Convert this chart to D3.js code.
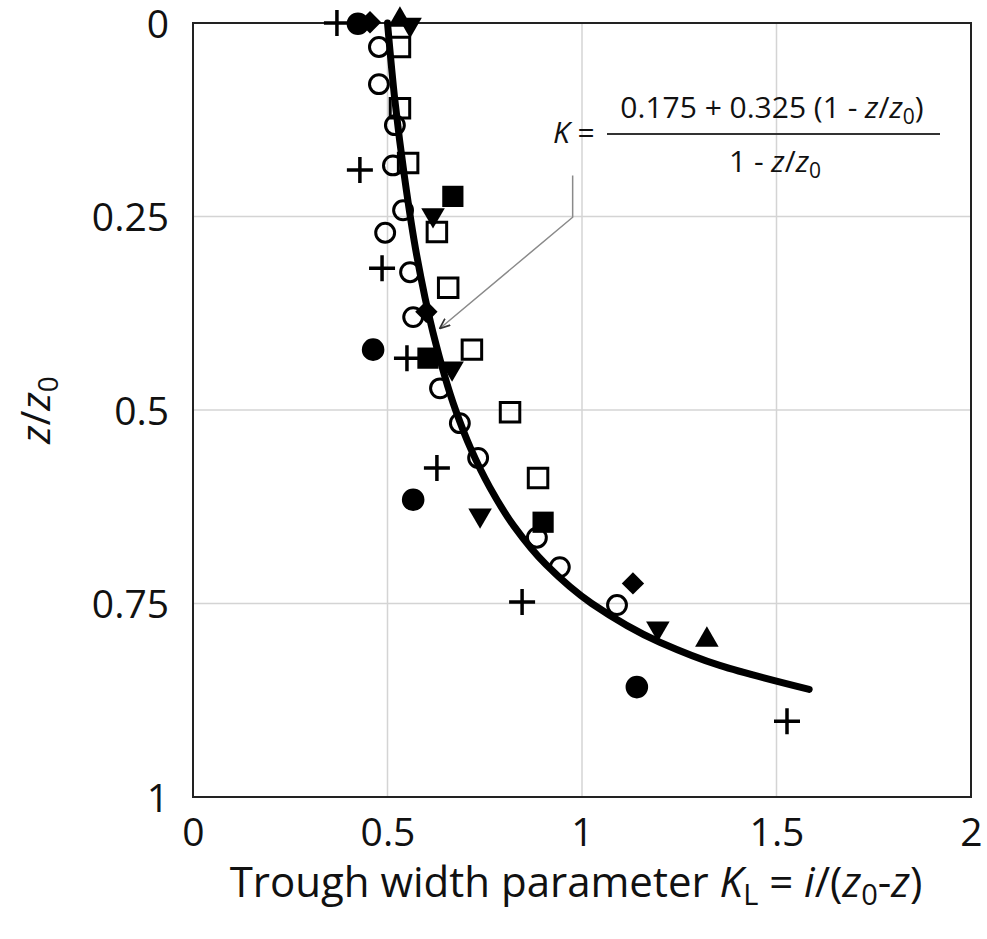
<!DOCTYPE html>
<html>
<head>
<meta charset="utf-8">
<script src="https://cdnjs.cloudflare.com/ajax/libs/d3/7.8.5/d3.min.js"></script>
<style>
  body { margin: 0; background: #fff; }
  text { font-family: "Open Sans", sans-serif; fill: #111; }
</style>
</head>
<body>
<script>
// tick values and labels
var xTicks = [0, 0.5, 1, 1.5, 2];
var xTickLabels = ["0", "0.5", "1", "1.5", "2"];
var yTicks = [0, 0.25, 0.5, 0.75, 1];
var yTickLabels = ["0", "0.25", "0.5", "0.75", "1"];

// measured points, K (x) and z/z0 (y), one pair of arrays per marker type
var openCircleK = [0.478, 0.478, 0.519, 0.514, 0.54, 0.494, 0.558, 0.566, 0.635, 0.686, 0.733, 0.884, 0.943, 1.09];
var openCircleZ = [0.031, 0.079, 0.132, 0.184, 0.242, 0.271, 0.322, 0.38, 0.472, 0.517, 0.562, 0.665, 0.703, 0.752];
var openSquareK = [0.532, 0.532, 0.553, 0.627, 0.656, 0.717, 0.815, 0.887];
var openSquareZ = [0.031, 0.11, 0.181, 0.27, 0.342, 0.422, 0.503, 0.588];
var filledSquareK = [0.668, 0.604, 0.9];
var filledSquareZ = [0.224, 0.433, 0.645];
var downTriangleK = [0.558, 0.617, 0.666, 0.738, 1.195];
var downTriangleZ = [0.002, 0.248, 0.446, 0.636, 0.782];
var upTriangleK = [0.532, 1.321];
var upTriangleZ = [-0.004, 0.797];
var filledCircleK = [0.424, 0.463, 0.566, 1.141];
var filledCircleZ = [0.001, 0.422, 0.616, 0.858];
var diamondK = [0.455, 0.6, 1.131];
var diamondZ = [-0.001, 0.373, 0.724];
var plusK = [0.37, 0.429, 0.486, 0.55, 0.627, 0.846, 1.527];
var plusZ = [0, 0.19, 0.317, 0.433, 0.575, 0.748, 0.902];

// fitted curve K = (0.175 + 0.325(1 - z/z0)) / (1 - z/z0)
var curveZ = [0, 0.1, 0.2, 0.3, 0.4, 0.5, 0.55, 0.6, 0.65, 0.7, 0.75, 0.8, 0.83, 0.861];
var curveK = [0.5, 0.519, 0.544, 0.575, 0.617, 0.675, 0.714, 0.763, 0.825, 0.908, 1.025, 1.2, 1.354, 1.584];

var w = 987, h = 939;
var margin = {top: 23, right: 16, bottom: 142, left: 193};
var graphWidth = w - margin.left - margin.right;
var graphHeight = h - margin.top - margin.bottom;

var svg = d3.select("body").append("svg")
  .attr("width", w)
  .attr("height", h);

svg.append("rect").attr("width", w).attr("height", h).attr("fill", "#fff");

var graph = svg.append("g")
  .attr("transform", `translate(${margin.left}, ${margin.top})`);

var xScale = d3.scaleLinear().domain([0, 2]).range([0, graphWidth]);
var yScale = d3.scaleLinear().domain([0, 1]).range([0, graphHeight]);

// gridlines
graph.append("g").selectAll("line")
  .data(xTicks.slice(1, -1))
  .enter().append("line")
  .attr("x1", d => xScale(d)).attr("x2", d => xScale(d))
  .attr("y1", 0).attr("y2", graphHeight)
  .attr("stroke", "#d4d4d4").attr("stroke-width", 1.5);

graph.append("g").selectAll("line")
  .data(yTicks.slice(1, -1))
  .enter().append("line")
  .attr("y1", d => yScale(d)).attr("y2", d => yScale(d))
  .attr("x1", 0).attr("x2", graphWidth)
  .attr("stroke", "#d4d4d4").attr("stroke-width", 1.5);

// frame
graph.append("rect")
  .attr("width", graphWidth).attr("height", graphHeight)
  .attr("fill", "none").attr("stroke", "#222").attr("stroke-width", 2);

// tick labels
var xAxis = d3.axisBottom(xScale).tickValues(xTicks)
  .tickFormat((d, i) => xTickLabels[i]).tickSize(0).tickPadding(0);
var yAxis = d3.axisLeft(yScale).tickValues(yTicks)
  .tickFormat((d, i) => yTickLabels[i]).tickSize(0).tickPadding(24);

var gx = graph.append("g").attr("transform", `translate(0, ${graphHeight})`).call(xAxis);
var gy = graph.append("g").call(yAxis);
[gx, gy].forEach(function(g) {
  g.select(".domain").remove();
  g.selectAll("text").attr("font-family", "Open Sans").attr("font-size", 39).attr("fill", "#111");
});
gx.selectAll("text").attr("dy", null).attr("y", 49);
gy.selectAll("text").attr("dy", "0.36em");

// annotation leader line
svg.append("defs").append("marker")
  .attr("id", "arrow")
  .attr("viewBox", "0 0 10 10").attr("refX", 9).attr("refY", 5)
  .attr("markerWidth", 7).attr("markerHeight", 7)
  .attr("orient", "auto-start-reverse")
  .append("path").attr("d", "M0,1 L10,5 L0,9").attr("fill", "none")
  .attr("stroke", "#333").attr("stroke-width", 1.6);

graph.append("path")
  .attr("d", d3.line()([[xScale(0.976), yScale(0.197)], [xScale(0.976), yScale(0.251)], [xScale(0.636), yScale(0.394)]]))
  .attr("fill", "none").attr("stroke", "#8a8a8a").attr("stroke-width", 1.5)
  .attr("marker-end", "url(#arrow)");

// curve
var line = d3.line()
  .x((d, i) => xScale(curveK[i]))
  .y(d => yScale(d))
  .curve(d3.curveMonotoneY);

graph.append("path")
  .datum(curveZ)
  .attr("d", line)
  .attr("fill", "none").attr("stroke", "#000")
  .attr("stroke-width", 7).attr("stroke-linecap", "round");

// markers
var series = [
  {k: openSquareK, z: openSquareZ, d: d3.symbol(d3.symbolSquare, 380)(), fill: "none", stroke: 3, rot: 0},
  {k: openCircleK, z: openCircleZ, d: d3.symbol(d3.symbolCircle, 280)(), fill: "none", stroke: 3, rot: 0},
  {k: filledSquareK, z: filledSquareZ, d: d3.symbol(d3.symbolSquare, 450)(), fill: "#000", stroke: 0, rot: 0},
  {k: downTriangleK, z: downTriangleZ, d: d3.symbol(d3.symbolTriangle, 240)(), fill: "#000", stroke: 0, rot: 180},
  {k: upTriangleK, z: upTriangleZ, d: d3.symbol(d3.symbolTriangle, 240)(), fill: "#000", stroke: 0, rot: 0},
  {k: filledCircleK, z: filledCircleZ, d: d3.symbol(d3.symbolCircle, 400)(), fill: "#000", stroke: 0, rot: 0},
  {k: diamondK, z: diamondZ, d: d3.symbol(d3.symbolSquare, 250)(), fill: "#000", stroke: 0, rot: 45},
  {k: plusK, z: plusZ, d: "M-13,0H13M0,-13V13", fill: "none", stroke: 3.5, rot: 0}
];

series.forEach(function(s) {
  graph.append("g").selectAll("path")
    .data(s.k)
    .enter().append("path")
    .attr("d", s.d)
    .attr("transform", (d, i) => `translate(${xScale(d)}, ${yScale(s.z[i])}) rotate(${s.rot})`)
    .attr("fill", s.fill)
    .attr("stroke", s.stroke ? "#000" : "none")
    .attr("stroke-width", s.stroke);
});

// formula
var f = svg.append("g").attr("font-size", 30);
var kEq = f.append("text").attr("x", 553).attr("y", 143);
kEq.append("tspan").attr("font-style", "italic").text("K");
kEq.append("tspan").text(" =");

var num = f.append("text").attr("x", 772).attr("y", 118).attr("text-anchor", "middle");
num.append("tspan").text("0.175 + 0.325 (1 - ");
num.append("tspan").attr("font-style", "italic").text("z");
num.append("tspan").text("/");
num.append("tspan").attr("font-style", "italic").text("z");
num.append("tspan").attr("font-size", 21).attr("dy", 6).text("0");
num.append("tspan").attr("dy", -6).text(")");

f.append("line").attr("x1", 607).attr("x2", 940).attr("y1", 134).attr("y2", 134)
  .attr("stroke", "#333").attr("stroke-width", 2);

var den = f.append("text").attr("x", 775).attr("y", 172).attr("text-anchor", "middle");
den.append("tspan").text("1 - ");
den.append("tspan").attr("font-style", "italic").text("z");
den.append("tspan").text("/");
den.append("tspan").attr("font-style", "italic").text("z");
den.append("tspan").attr("font-size", 21).attr("dy", 6).text("0");

// axis titles
var xt = svg.append("text")
  .attr("x", 576).attr("y", 897)
  .attr("text-anchor", "middle").attr("font-size", 42);
xt.append("tspan").text("Trough width parameter ");
xt.append("tspan").attr("font-style", "italic").text("K");
xt.append("tspan").attr("font-size", 29).attr("dy", 8).text("L");
xt.append("tspan").attr("dy", -8).text(" = ");
xt.append("tspan").attr("font-style", "italic").text("i");
xt.append("tspan").text("/(");
xt.append("tspan").attr("font-style", "italic").text("z");
xt.append("tspan").attr("font-size", 29).attr("dy", 8).text("0");
xt.append("tspan").attr("dy", -8).text("-");
xt.append("tspan").attr("font-style", "italic").text("z");
xt.append("tspan").text(")");

var yt = svg.append("text")
  .attr("transform", `translate(50, ${margin.top + graphHeight / 2}) rotate(-90)`)
  .attr("text-anchor", "middle").attr("font-size", 41);
yt.append("tspan").attr("font-style", "italic").text("z");
yt.append("tspan").text("/");
yt.append("tspan").attr("font-style", "italic").text("z");
yt.append("tspan").attr("font-size", 28).attr("dy", 8).text("0");
</script>
</body>
</html>
